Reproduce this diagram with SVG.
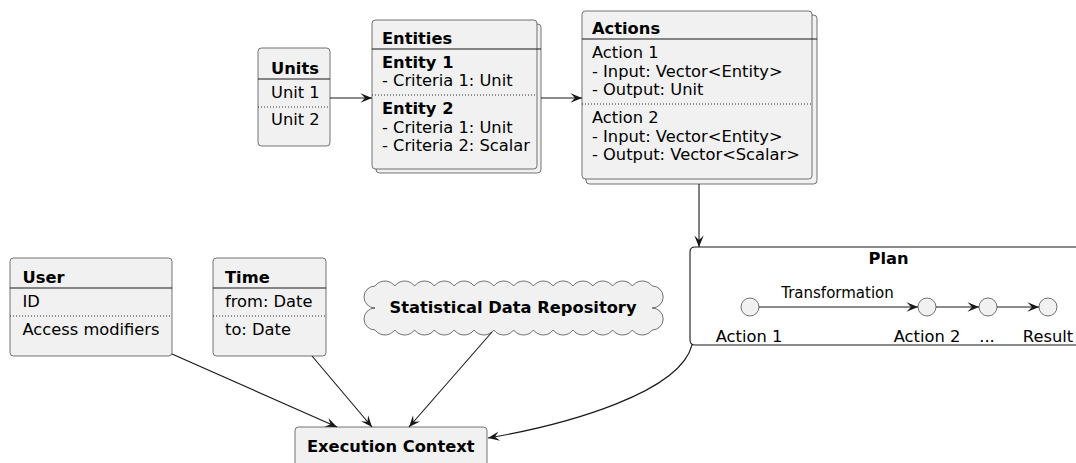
<svg xmlns="http://www.w3.org/2000/svg" width="1076" height="463" viewBox="0 0 1076 463">
<style>
.box{fill:#F1F1F1;stroke:#181818;stroke-width:0.6}
.sep{stroke:#181818;stroke-width:1.1}
.dot{stroke:#181818;stroke-width:0.9;stroke-dasharray:1 2}
.t{font-family:"DejaVu Sans",sans-serif;font-size:16.3px;fill:#000}
.b{font-weight:bold}
.c{text-anchor:middle}
.ln{fill:none;stroke:#181818;stroke-width:1.1}
.circ{fill:#F1F1F1;stroke:#181818;stroke-width:0.6}
</style>
<defs>
<marker id="ah" viewBox="-12 -6 14 12" markerWidth="14" markerHeight="12" refX="0" refY="0" orient="auto" markerUnits="userSpaceOnUse">
<path d="M0,0 L-11.5,-4.7 L-7,0 L-11.5,4.7 Z" fill="#181818"/>
</marker>
</defs>
<g id="units">
<rect class="box" x="258" y="48" width="72" height="98" rx="3.5"/>
<text class="t b" x="271" y="74">Units</text>
<line class="sep" x1="258" y1="79" x2="330" y2="79"/>
<text class="t" x="271" y="98">Unit 1</text>
<line class="dot" x1="258" y1="107" x2="330" y2="107"/>
<text class="t" x="271" y="125">Unit 2</text>
</g>
<g id="entities">
<rect class="box" x="376" y="24" width="165" height="149" rx="3.5"/>
<rect class="box" x="372" y="20" width="165" height="149" rx="3.5"/>
<text class="t b" x="382" y="44">Entities</text>
<line class="sep" x1="372" y1="49" x2="541" y2="49"/>
<text class="t b" x="382" y="68">Entity 1</text>
<text class="t" x="382" y="86">- Criteria 1: Unit</text>
<line class="dot" x1="372" y1="95" x2="537" y2="95"/>
<text class="t b" x="382" y="114">Entity 2</text>
<text class="t" x="382" y="133">- Criteria 1: Unit</text>
<text class="t" x="382" y="151">- Criteria 2: Scalar</text>
</g>
<g id="actions">
<rect class="box" x="586" y="15" width="231" height="169" rx="3.5"/>
<rect class="box" x="582" y="11" width="230" height="168" rx="3.5"/>
<text class="t b" x="592" y="34">Actions</text>
<line class="sep" x1="582" y1="39" x2="817" y2="39"/>
<text class="t" x="592" y="58">Action 1</text>
<text class="t" x="592" y="77">- Input: Vector&lt;Entity&gt;</text>
<text class="t" x="592" y="95">- Output: Unit</text>
<line class="dot" x1="582" y1="104" x2="812" y2="104"/>
<text class="t" x="592" y="123">Action 2</text>
<text class="t" x="592" y="142">- Input: Vector&lt;Entity&gt;</text>
<text class="t" x="592" y="160">- Output: Vector&lt;Scalar&gt;</text>
</g>
<g id="user">
<rect class="box" x="10" y="258" width="162" height="98" rx="3.5"/>
<text class="t b" x="22.5" y="283">User</text>
<line class="sep" x1="10" y1="288" x2="172" y2="288"/>
<text class="t" x="22.5" y="307">ID</text>
<line class="dot" x1="10" y1="316" x2="172" y2="316"/>
<text class="t" x="22.5" y="335">Access modifiers</text>
</g>
<g id="time">
<rect class="box" x="213" y="258" width="113" height="98" rx="3.5"/>
<text class="t b" x="225" y="283">Time</text>
<line class="sep" x1="213" y1="288" x2="326" y2="288"/>
<text class="t" x="225" y="307">from: Date</text>
<line class="dot" x1="213" y1="316" x2="326" y2="316"/>
<text class="t" x="225" y="335">to: Date</text>
</g>
<g id="repository">
<path class="box" d="M375,286 a12.3,12.3 0 0 1 19.8,0 a12.3,12.3 0 0 1 19.8,0 a12.3,12.3 0 0 1 19.8,0 a12.3,12.3 0 0 1 19.8,0 a12.3,12.3 0 0 1 19.8,0 a12.3,12.3 0 0 1 19.8,0 a12.3,12.3 0 0 1 19.8,0 a12.3,12.3 0 0 1 19.8,0 a12.3,12.3 0 0 1 19.8,0 a12.3,12.3 0 0 1 19.8,0 a12.3,12.3 0 0 1 19.8,0 a12.3,12.3 0 0 1 19.8,0 a12.3,12.3 0 0 1 19.8,0 a12.3,12.3 0 0 1 19.8,0 a11,11 0 0 1 0,22 a11,11 0 0 1 0,22 a12.3,12.3 0 0 1 -19.8,0 a12.3,12.3 0 0 1 -19.8,0 a12.3,12.3 0 0 1 -19.8,0 a12.3,12.3 0 0 1 -19.8,0 a12.3,12.3 0 0 1 -19.8,0 a12.3,12.3 0 0 1 -19.8,0 a12.3,12.3 0 0 1 -19.8,0 a12.3,12.3 0 0 1 -19.8,0 a12.3,12.3 0 0 1 -19.8,0 a12.3,12.3 0 0 1 -19.8,0 a12.3,12.3 0 0 1 -19.8,0 a12.3,12.3 0 0 1 -19.8,0 a12.3,12.3 0 0 1 -19.8,0 a12.3,12.3 0 0 1 -19.8,0 a11,11 0 0 1 0,-22 a11,11 0 0 1 0,-22 Z"/>
<text class="t b c" x="513" y="313">Statistical Data Repository</text>
</g>
<g id="plan">
<path d="M1090,247 L695,247 Q690,247 690,252 L690,340 Q690,345 695,345 L1090,345" fill="#FFFFFF" stroke="#181818" stroke-width="1.1"/>
<text class="t b c" x="888.5" y="264">Plan</text>
<circle class="circ" cx="750" cy="307" r="9"/>
<circle class="circ" cx="927" cy="307" r="9"/>
<circle class="circ" cx="988" cy="307" r="9"/>
<circle class="circ" cx="1048" cy="307" r="9"/>
<line class="ln" x1="759" y1="307" x2="918" y2="307" marker-end="url(#ah)"/>
<line class="ln" x1="936" y1="307" x2="979" y2="307" marker-end="url(#ah)"/>
<line class="ln" x1="997" y1="307" x2="1039" y2="307" marker-end="url(#ah)"/>
<text class="t c" x="837.5" y="298" style="font-size:15px">Transformation</text>
<text class="t c" x="749" y="342">Action 1</text>
<text class="t c" x="927" y="342">Action 2</text>
<text class="t c" x="987" y="342">...</text>
<text class="t c" x="1048" y="342">Result</text>
</g>
<g id="execution-context">
<rect class="box" x="295" y="427" width="192" height="48" rx="3.5"/>
<text class="t b" x="307" y="452">Execution Context</text>
</g>
<g id="connectors">
<line class="ln" x1="330" y1="98" x2="372" y2="98" marker-end="url(#ah)"/>
<line class="ln" x1="541" y1="98" x2="582" y2="98" marker-end="url(#ah)"/>
<line class="ln" x1="699" y1="184" x2="699" y2="247" marker-end="url(#ah)"/>
<line class="ln" x1="172" y1="354" x2="337" y2="427" marker-end="url(#ah)"/>
<line class="ln" x1="312" y1="356" x2="372" y2="427" marker-end="url(#ah)"/>
<line class="ln" x1="492" y1="332" x2="409" y2="427" marker-end="url(#ah)"/>
<path class="ln" d="M692,345 C680,392 570,424 488,438" marker-end="url(#ah)"/>
</g>
</svg>
